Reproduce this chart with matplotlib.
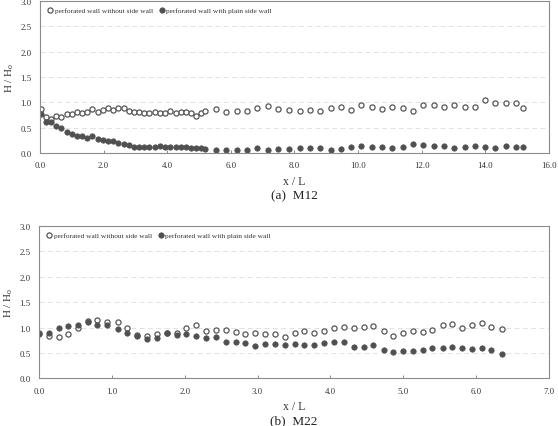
import matplotlib
matplotlib.use("Agg")
import matplotlib.pyplot as plt

plt.rcParams['font.family'] = ['Liberation Serif', 'DejaVu Serif']
plt.rcParams['mathtext.fontset'] = 'custom'
plt.rcParams['mathtext.rm'] = 'Liberation Serif'

# (a) M12
m12_x = [0.02, 0.18, 0.34, 0.51, 0.67, 0.84, 1.00, 1.16, 1.33, 1.49, 1.65, 1.81,
         1.98, 2.14, 2.30, 2.46, 2.63, 2.79, 2.95, 3.11, 3.28, 3.44, 3.60, 3.77,
         3.93, 4.09, 4.26, 4.42, 4.58, 4.74, 4.91, 5.07, 5.20,
         5.54, 5.86, 6.18, 6.50, 6.83, 7.16, 7.49, 7.83, 8.16, 8.48, 8.81, 9.14,
         9.45, 9.78, 10.10, 10.43, 10.76, 11.07, 11.40, 11.73, 12.05, 12.38, 12.70,
         13.02, 13.35, 13.67, 13.99, 14.32, 14.64, 14.97, 15.20]
m12_open = [0.88, 0.72, 0.68, 0.74, 0.72, 0.78, 0.78, 0.82, 0.80, 0.82, 0.87, 0.82,
            0.85, 0.90, 0.85, 0.90, 0.90, 0.84, 0.82, 0.81, 0.80, 0.80, 0.82, 0.80,
            0.80, 0.84, 0.80, 0.81, 0.82, 0.80, 0.74, 0.80, 0.83,
            0.88, 0.82, 0.84, 0.83, 0.89, 0.93, 0.87, 0.86, 0.84, 0.86, 0.84, 0.89,
            0.91, 0.86, 0.95, 0.91, 0.87, 0.91, 0.89, 0.84, 0.95, 0.95, 0.91,
            0.96, 0.92, 0.92, 1.04, 0.99, 0.98, 0.99, 0.90]
m12_fill = [0.78, 0.61, 0.61, 0.53, 0.49, 0.41, 0.37, 0.33, 0.33, 0.29, 0.33, 0.27,
            0.25, 0.23, 0.24, 0.20, 0.19, 0.17, 0.13, 0.125, 0.125, 0.125, 0.13, 0.14,
            0.125, 0.12, 0.13, 0.125, 0.12, 0.11, 0.10, 0.10, 0.08,
            0.07, 0.065, 0.07, 0.065, 0.11, 0.07, 0.08, 0.09, 0.105, 0.105, 0.105, 0.07,
            0.09, 0.12, 0.14, 0.125, 0.125, 0.10, 0.12, 0.18, 0.165, 0.14, 0.15,
            0.11, 0.12, 0.145, 0.125, 0.105, 0.145, 0.125, 0.125]

# (b) M22
m22_x = [0.00, 0.14, 0.27, 0.40, 0.54, 0.67, 0.80, 0.94, 1.08, 1.21, 1.35, 1.48,
         1.62, 1.75, 1.89, 2.02, 2.16, 2.29, 2.43, 2.56, 2.70, 2.83, 2.97, 3.10,
         3.24, 3.37, 3.51, 3.64, 3.78, 3.91, 4.05, 4.19, 4.32, 4.46, 4.59, 4.73,
         4.86, 5.00, 5.13, 5.27, 5.40, 5.54, 5.67, 5.81, 5.94, 6.08, 6.21, 6.35]
m22_open = [0.89, 0.84, 0.81, 0.87, 0.99, 1.13, 1.14, 1.10, 1.10, 0.99, 0.86, 0.84,
            0.88, 0.89, 0.90, 0.99, 1.04, 0.94, 0.96, 0.96, 0.92, 0.875, 0.89, 0.875,
            0.87, 0.82, 0.89, 0.93, 0.90, 0.93, 1.00, 1.01, 0.99, 1.01, 1.02, 0.94,
            0.84, 0.89, 0.94, 0.91, 0.96, 1.04, 1.07, 1.00, 1.04, 1.09, 1.01, 0.98]
m22_fill = [0.88, 0.89, 0.99, 1.02, 1.05, 1.11, 1.05, 1.05, 0.97, 0.89, 0.83, 0.78,
            0.80, 0.89, 0.85, 0.88, 0.83, 0.80, 0.82, 0.72, 0.72, 0.69, 0.63, 0.68,
            0.68, 0.66, 0.68, 0.66, 0.66, 0.70, 0.71, 0.71, 0.62, 0.62, 0.65, 0.56,
            0.51, 0.53, 0.53, 0.56, 0.59, 0.60, 0.62, 0.60, 0.57, 0.59, 0.56, 0.48]

lab_open = "perforated wall without side wall"
lab_fill = "perforated wall with plain side wall"
yticks = [0.0, 0.5, 1.0, 1.5, 2.0, 2.5, 3.0]

fig = plt.figure(figsize=(5.58, 4.27), dpi=100)
ax1 = fig.add_axes([0.0717, 0.639, 0.912, 0.356])
ax2 = fig.add_axes([0.0699, 0.112, 0.914, 0.356])

panels = [(ax1, m12_x, m12_open, m12_fill, 16, 2, "(a)  M12"),
          (ax2, m22_x, m22_open, m22_fill, 7, 1, "(b)  M22")]

for ax, x, yo, yf, xmax, step, cap in panels:
    ax.plot(x, yo, 'o', ms=3.7, mfc='white', mec='#555555', mew=0.9, label=lab_open)
    ax.plot(x, yf, 'o', ms=3.9, mfc='#505050', mec='#505050', mew=0.5, label=lab_fill)
    ax.set_xlim(0, xmax)
    ax.set_ylim(0, 3.0)
    ax.set_yticks(yticks)
    ax.set_yticklabels(["%.1f" % v for v in yticks])
    xt = list(range(0, xmax + 1, step))
    ax.set_xticks(xt)
    ax.set_xticklabels(["%.1f" % v for v in xt])
    for yv in yticks[1:-1]:
        ax.axhline(yv, color='#dddddd', lw=0.6, ls=(0, (6, 4)), zorder=0)
    for s in ax.spines.values():
        s.set_color('#8c8c8c')
        s.set_linewidth(0.8)
    ax.tick_params(axis='x', direction='in', length=2, width=0.6, color='#777777',
                   labelsize=6.3, labelcolor='#333333', pad=6)
    ax.tick_params(axis='y', direction='in', length=0, labelsize=6.3,
                   labelcolor='#333333', pad=6)
    ax.set_ylabel(r"H / H$_\mathrm{o}$", fontsize=8, color='#333333', labelpad=3)
    ax.set_xlabel("x / L", fontsize=8.5, color='#333333', labelpad=4)
    ax.legend(loc='upper left', ncol=2, frameon=False, fontsize=5.3,
              handletextpad=0.0, columnspacing=0.6, handlelength=1.2,
              borderaxespad=0.4, labelcolor='#333333')
    ax.text(0.5, -0.235, cap, transform=ax.transAxes, ha='center', va='top',
            fontsize=9.5, color='#222222')

fig.savefig("out.png", dpi=100)
